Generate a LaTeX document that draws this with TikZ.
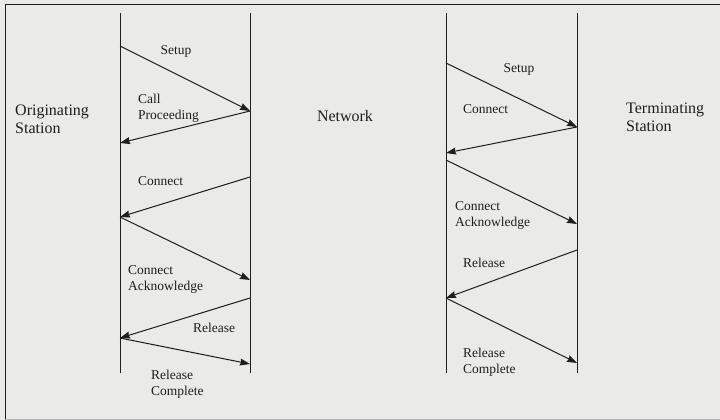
\documentclass[tikz,border=0pt]{standalone}
\usepackage{fontspec}
\setmainfont{Liberation Serif}
\usetikzlibrary{arrows.meta}
\definecolor{paper}{RGB}{234,234,233}
\definecolor{ink}{RGB}{30,30,30}
\tikzset{>={Stealth[length=10pt,width=7pt,inset=1pt]},
  msg/.style={->, draw=ink, line width=1pt},
  lifeline/.style={draw=ink, line width=1pt},
  station/.style={font=\fontsize{16}{18}\selectfont, align=left, inner sep=0pt, text=ink},
  lbl/.style={font=\fontsize{13.5}{16}\selectfont, align=left, inner sep=0pt, text=ink}}

\begin{document}
\begin{tikzpicture}[x=1pt, y=-1pt]
    \fill[paper] (0,0) rectangle (720,420);
    \useasboundingbox (0,0) rectangle (720,420);
    % frame
    \draw[ink, line width=1pt] (720,5) -- (5,5) -- (5,420);
    \draw[gray!60, line width=0.6pt] (5,419) -- (720,419);

    % lifelines
    \coordinate (origTop) at (120,13);   \coordinate (origBot) at (120,373);
    \coordinate (netLTop) at (250,13);   \coordinate (netLBot) at (250,373);
    \coordinate (netRTop) at (446,13);   \coordinate (netRBot) at (446,373);
    \coordinate (termTop) at (577,13);   \coordinate (termBot) at (577,373);
    \draw[lifeline] (origTop) -- (origBot);
    \draw[lifeline] (netLTop) -- (netLBot);
    \draw[lifeline] (netRTop) -- (netRBot);
    \draw[lifeline] (termTop) -- (termBot);

    % stations
    \node[station, anchor=west] (orig) at (15,119) {Originating\\Station};
    \node[station] (net) at (345,116) {Network};
    \node[station, anchor=west] (term) at (626,117) {Terminating\\Station};

    % originating side messages
    \coordinate (o1) at (120,46);  \coordinate (n1) at (250,111);
    \coordinate (o2) at (120,143);
    \coordinate (n3) at (250,177); \coordinate (o3) at (120,217);
    \coordinate (n4) at (250,280);
    \coordinate (n5) at (250,298); \coordinate (o5) at (120,338);
    \coordinate (n6) at (250,364);
    \draw[msg] (o1) -- (n1);
    \draw[msg] (n1) -- (o2);
    \draw[msg] (n3) -- (o3);
    \draw[msg] (o3) -- (n4);
    \draw[msg] (n5) -- (o5);
    \draw[msg] (o5) -- (n6);
    \node[lbl] (setupL) at (176,51) {Setup};
    \node[lbl, anchor=west] (procL) at (138,108) {Call\\Proceeding};
    \node[lbl, anchor=west] (connL) at (138,181) {Connect};
    \node[lbl, anchor=west] (ackL) at (128,279) {Connect\\Acknowledge};
    \node[lbl] (relL) at (214,328) {Release};
    \node[lbl, anchor=west] (compL) at (151,384) {Release\\Complete};

    % terminating side messages
    \coordinate (m1) at (446,63);  \coordinate (t1) at (577,127);
    \coordinate (m2) at (446,153);
    \coordinate (m3) at (446,160); \coordinate (t3) at (577,224);
    \coordinate (t4) at (577,250); \coordinate (m4) at (446,298);
    \coordinate (t5) at (577,363);
    \draw[msg] (m1) -- (t1);
    \draw[msg] (t1) -- (m2);
    \draw[msg] (m3) -- (t3);
    \draw[msg] (t4) -- (m4);
    \draw[msg] (m4) -- (t5);
    \node[lbl] (setupR) at (519,69) {Setup};
    \node[lbl, anchor=west] (connR) at (463,109) {Connect};
    \node[lbl, anchor=west] (ackR) at (455,215) {Connect\\Acknowledge};
    \node[lbl, anchor=west] (relR) at (463,263) {Release};
    \node[lbl, anchor=west] (compR) at (463,362) {Release\\Complete};
\end{tikzpicture}
\end{document}
